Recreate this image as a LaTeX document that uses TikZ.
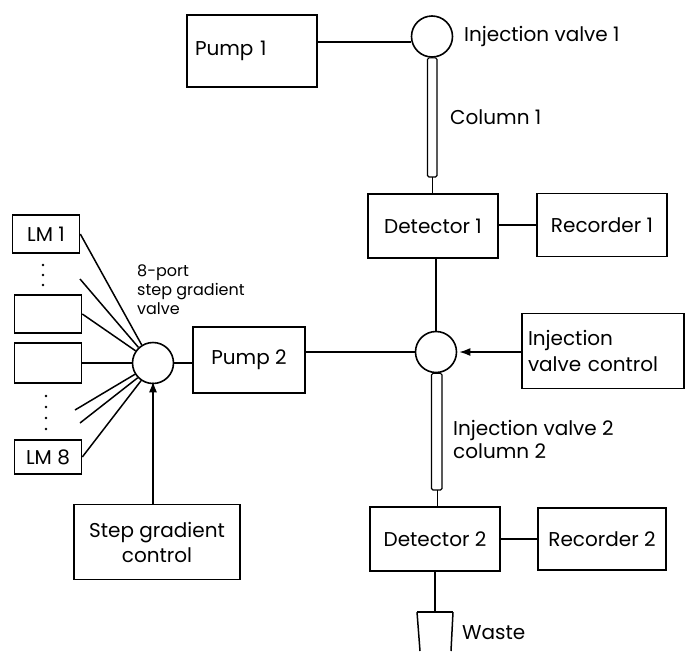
\documentclass[tikz,border=0pt]{standalone}
\usepackage{fontspec}
\setmainfont{Poppins}
\usetikzlibrary{arrows.meta,calc}

\tikzset{
  unitbox/.style={draw=black,line width=1.6pt,inner sep=0pt,align=center,font=\fontsize{20}{26}\selectfont},
  valvedisc/.style={draw=black,circle,line width=1.6pt,minimum size=41pt,inner sep=0pt},
  pipe/.style={draw=black,line width=1.5pt},
  tube/.style={draw=black,line width=1.1pt,rounded corners=1.5pt},
  tag/.style={font=\fontsize{20}{23}\selectfont,align=left,inner sep=0pt},
}

\begin{document}
\begin{tikzpicture}[x=1pt,y=-1pt]
\useasboundingbox (0,0) rectangle (685,651);
% units:
\node[unitbox,minimum width=130pt,minimum height=72pt,text width=114pt,align=left] (pumpA) at (252,51) {Pump 1};
\node[valvedisc] (valveA) at (432,36.5) {};
\node[unitbox,minimum width=130pt,minimum height=64pt] (detA) at (433,226) {Detector 1};
\node[unitbox,minimum width=130pt,minimum height=63pt] (recA) at (602,225) {Recorder 1};
\node[valvedisc] (valveB) at (436,352) {};
\node[unitbox,minimum width=162pt,minimum height=75pt,text width=150pt,align=left] (ivc) at (603,351) {Injection\\valve control};
\node[unitbox,minimum width=112pt,minimum height=66pt] (pumpB) at (249,360) {Pump 2};
\node[unitbox,minimum width=130pt,minimum height=64pt] (detB) at (435,539) {Detector 2};
\node[unitbox,minimum width=128pt,minimum height=62pt] (recB) at (602,539) {Recorder 2};
\node[valvedisc] (valveC) at (153,363) {};
\node[unitbox,minimum width=67pt,minimum height=38pt] (lmA) at (46,234) {LM 1};
\node[unitbox,minimum width=67pt,minimum height=38pt] (lmB) at (48,314) {};
\node[unitbox,minimum width=67pt,minimum height=40pt] (lmC) at (48,363) {};
\node[unitbox,minimum width=67pt,minimum height=34pt] (lmD) at (48,457) {LM 8};
\node[unitbox,minimum width=166pt,minimum height=75pt,font=\fontsize{20}{25}\selectfont] (sgc) at (157,542) {Step gradient\\control};
% free ends and column ends:
\coordinate (portA) at (80,279);
\coordinate (portB) at (75,410);
\coordinate (portC) at (80,423);
\coordinate (colA) at (432.5,177);
\coordinate (colB) at (437.5,490);
\coordinate (cup) at (435,612);
% labels:
\node[tag,anchor=west] (labA) at (464,36) {Injection valve 1};
\node[tag,anchor=west] (labB) at (450,117) {Column 1};
\node[tag,anchor=north west] (labC) at (453,420) {Injection valve 2\\column 2};
\node[tag,anchor=west] (labD) at (462,633) {Waste};
\node[tag,anchor=north west,font=\fontsize{16}{19}\selectfont] (labE) at (137,265) {8-port\\step gradient\\valve};
% dots:
\foreach \y in {265,275,285} \fill (43,\y) circle (1.3pt);
\foreach \y in {396,407,418,429} \fill (46,\y) circle (1.3pt);
% columns:
\path[tube] ($(valveA.south)+(-4.5,0)$) rectangle ($(colA)+(4.5,0)$);
\path[tube] ($(valveB.south)+(-4.5,0)$) rectangle ($(colB)+(4.5,0)$);
% connectors:
\draw[pipe] (pumpA.east |- valveA.195) -- (valveA.195);
\draw[pipe] (colA) -- (colA |- detA.north);
\draw[pipe] (recA.west) -- (detA.east |- recA.west);
\draw[pipe] (detA.south -| valveB.north) -- (valveB.north);
\draw[pipe] (pumpB.east |- valveB.west) -- (valveB.west);
\draw[pipe,-{Latex[length=11pt,width=8pt]}] (ivc.west |- valveB.east) -- ([xshift=2pt]valveB.east);
\draw[pipe] (colB) -- (colB |- detB.north);
\draw[pipe] (detB.east) -- (recB.west);
\draw[pipe] (detB.south -| cup) -- (cup);
\draw[pipe] (417,612) -- (453,612);
\draw[pipe] (417,612) -- (420,651);
\draw[pipe] (453,612) -- (451,651);
\draw[pipe] (valveC.east) -- (valveC.east -| pumpB.west);
\draw[pipe] (lmA.east) -- (valveC.122);
\draw[pipe] (portA) -- (valveC.133);
\draw[pipe] (lmB.east) -- (valveC.145);
\draw[pipe] (lmC.east) -- (valveC.west);
\draw[pipe] (portB) -- (valveC.212);
\draw[pipe] (portC) -- (valveC.224);
\draw[pipe] (lmD.east) -- (valveC.236);
\draw[pipe,-{Latex[length=11pt,width=8pt]}] (sgc.north -| valveC.south) -- ([yshift=3pt]valveC.south);
\end{tikzpicture}
\end{document}
